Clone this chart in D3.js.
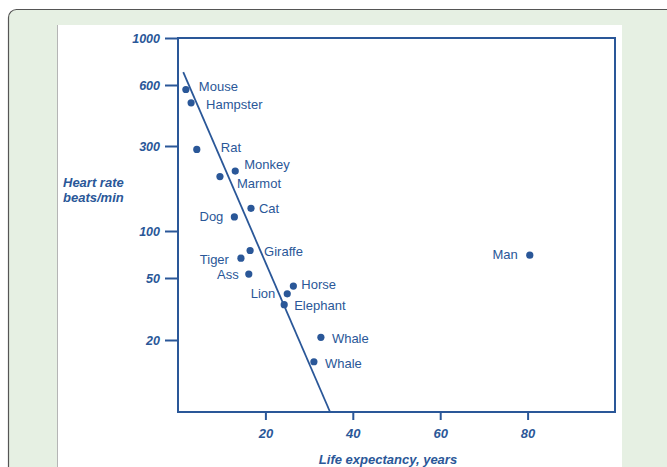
<!DOCTYPE html>
<html>
<head>
<meta charset="utf-8">
<script src="https://cdn.jsdelivr.net/npm/d3@7"></script>
<style>
  html, body { margin: 0; padding: 0; background: #ffffff; }
  svg { display: block; }
</style>
</head>
<body>
<svg id="chart" width="667" height="467"></svg>
<script>
// ---- data ----
const animals = ["Mouse", "Hampster", "Rat", "Monkey", "Marmot", "Cat", "Dog", "Giraffe",
                 "Tiger", "Ass", "Horse", "Lion", "Elephant", "Whale", "Whale", "Man"];
const lifeYears = [1.8, 3.0, 4.3, 13.1, 9.6, 16.7, 12.9, 16.5, 14.4, 16.2, 26.4, 25.0, 24.3, 32.7, 31.1, 80.5];
const heartRate = [570, 490, 287, 217, 202, 134, 120, 75, 67, 53, 44.4, 39.6, 33.7, 20.8, 14.5, 70];
const trendLife = [1.2, 34.8];
const trendHeart = [690, 6.9];
const yTicks = [1000, 600, 300, 100, 50, 20];
const xTicks = [20, 40, 60, 80];
const xTitle = "Life expectancy, years";
const yTitle = ["Heart rate", "beats/min"];

// ---- layout ----
const ink = "#2a5798";
const svg = d3.select("#chart");

// background panel
svg.append("rect").attr("x", 8.5).attr("y", 9.5).attr("width", 700).attr("height", 500)
  .attr("rx", 8).attr("fill", "#e6f0e3").attr("stroke", "#555").attr("stroke-width", 1.2);
svg.append("rect").attr("x", 57).attr("y", 25).attr("width", 565).attr("height", 460)
  .attr("fill", "#ffffff");
svg.append("line").attr("x1", 57.5).attr("x2", 57.5).attr("y1", 25).attr("y2", 467)
  .attr("stroke", "#b5b5b5").attr("stroke-width", 1);

const x = d3.scaleLinear().domain([0, 100]).range([178, 615]);
// hand-drawn log axis: piecewise log scale through the printed tick positions
const y = d3.scaleLog().domain(yTicks).range([38, 85, 146, 231, 278, 340]);
const plotTop = 38, plotBottom = 412;

// frame
svg.append("rect").attr("x", x(0)).attr("y", plotTop)
  .attr("width", x(100) - x(0)).attr("height", plotBottom - plotTop)
  .attr("fill", "none").attr("stroke", ink).attr("stroke-width", 2);

// y axis
const yAxis = svg.append("g").attr("transform", `translate(${x(0)},0)`)
  .call(d3.axisLeft(y).tickValues(yTicks).tickFormat(d3.format("d")).tickSize(13).tickPadding(5));
yAxis.select(".domain").remove();
yAxis.selectAll(".tick line").attr("stroke", ink).attr("stroke-width", 2);
yAxis.selectAll(".tick text").attr("fill", ink)
  .style("font-family", "'Liberation Sans', Arial, sans-serif")
  .style("font-size", "12.5px").style("font-weight", "bold").style("font-style", "italic");

// x axis
const xAxis = svg.append("g").attr("transform", `translate(0,${plotBottom})`)
  .call(d3.axisBottom(x).tickValues(xTicks).tickSize(8).tickPadding(8.5));
xAxis.select(".domain").remove();
xAxis.selectAll(".tick line").attr("stroke", ink).attr("stroke-width", 2);
xAxis.selectAll(".tick text").attr("fill", ink)
  .style("font-family", "'Liberation Sans', Arial, sans-serif")
  .style("font-size", "13px").style("font-weight", "bold").style("font-style", "italic");

// titles
const titleStyle = s => s.attr("fill", ink)
  .style("font-family", "'Liberation Sans', Arial, sans-serif")
  .style("font-size", "13px").style("font-weight", "bold").style("font-style", "italic");
svg.append("text").attr("x", 388).attr("y", 464).attr("text-anchor", "middle")
  .text(xTitle).call(titleStyle);
svg.selectAll(".ytitle").data(yTitle).enter().append("text")
  .attr("x", 63).attr("y", (d, i) => 187 + i * 15).text(d => d).call(titleStyle);

// trend line
const trend = trendLife.map((v, i) => [v, trendHeart[i]]);
svg.append("path").datum(trend)
  .attr("d", d3.line().x(d => x(d[0])).y(d => y(d[1])))
  .attr("stroke", ink).attr("stroke-width", 1.8).attr("fill", "none");

// points
const pts = animals.map((a, i) => ({ name: a, life: lifeYears[i], hr: heartRate[i] }));
svg.selectAll(".dot").data(pts).enter().append("circle")
  .attr("cx", d => x(d.life)).attr("cy", d => y(d.hr)).attr("r", 3.6).attr("fill", ink);

// label placement (layout only): [dx, dy, anchor]
const labelPlace = [
  [13, -3, "start"], [15, 1.6, "start"], [24, -1.6, "start"], [9, -7, "start"],
  [17, 7.3, "start"], [8, 0, "start"], [-11, -0.6, "end"], [14, 1.3, "start"],
  [-12, 1.7, "end"], [-10, 0.3, "end"], [8, -1.7, "start"], [-12, 0, "end"],
  [10, 0.3, "start"], [11, 1, "start"], [11, 2, "start"], [-12, -0.6, "end"]
];
svg.selectAll(".lbl").data(pts).enter().append("text")
  .attr("x", (d, i) => x(d.life) + labelPlace[i][0])
  .attr("y", (d, i) => y(d.hr) + labelPlace[i][1])
  .attr("dy", "0.35em")
  .attr("text-anchor", (d, i) => labelPlace[i][2])
  .attr("fill", ink)
  .style("font-family", "'Liberation Sans', Arial, sans-serif")
  .style("font-size", "13px")
  .text(d => d.name);
</script>
</body>
</html>
